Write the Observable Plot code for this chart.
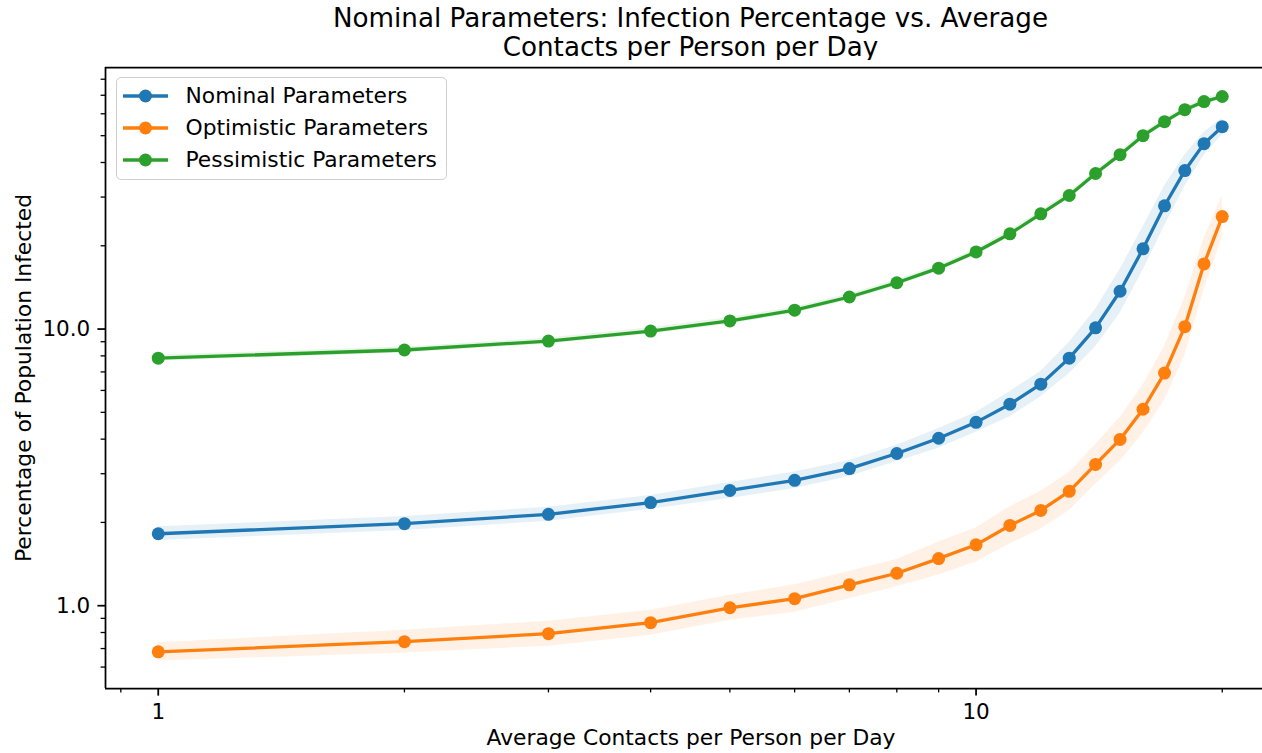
<!DOCTYPE html>
<html>
<head>
<meta charset="utf-8">
<script src="https://cdn.jsdelivr.net/npm/d3@7"></script>
<script src="https://cdn.jsdelivr.net/npm/@observablehq/plot@0.6"></script>
<style>
  html, body { margin: 0; padding: 0; background: #fff; overflow: hidden; }
  body { font-family: "DejaVu Sans", sans-serif; color: #000; position: relative; width: 1262px; height: 753px; }
  #title { position: absolute; left: 105px; top: 4px; width: 1171px; text-align: center; font-size: 26.2px; line-height: 29px; }
  #chart { position: absolute; left: 0; top: 60px; }
  #legend { position: absolute; left: 116px; top: 77px; width: 331px; height: 103px; box-sizing: border-box;
            border: 1.5px solid #cfcfcf; border-radius: 5px; background: rgba(255,255,255,0.8);
            padding: 1.5px 0 0 5.5px; }
  .row { display: flex; align-items: center; height: 32px; font-size: 21.8px; }
  .row svg { margin-right: 17px; flex: none; }
</style>
</head>
<body>
<div id="title"></div>
<div id="chart"></div>
<div id="legend"></div>
<script>
// ---- data ----
const contacts = [1,2,3,4,5,6,7,8,9,10,11,12,13,14,15,16,17,18,19,20];

const nominal   = [1.82,1.98,2.14,2.36,2.61,2.84,3.13,3.55,4.03,4.60,5.35,6.32,7.85,10.1,13.7,19.5,27.9,37.4,46.8,53.9];
const nominalLo = [1.72,1.87,2.02,2.23,2.44,2.65,2.93,3.32,3.71,4.24,4.82,5.69,6.89,8.63,11.4,16.3,23.6,32.8,42.5,50.4];
const nominalHi = [1.93,2.10,2.27,2.50,2.79,3.04,3.35,3.80,4.37,4.99,5.94,7.02,8.95,11.8,16.4,23.4,32.9,42.6,51.5,57.7];

const optimistic   = [0.681,0.741,0.792,0.868,0.983,1.06,1.19,1.31,1.48,1.66,1.95,2.21,2.59,3.24,3.99,5.13,6.93,10.2,17.2,25.5];
const optimisticLo = [0.631,0.674,0.714,0.782,0.886,0.946,1.06,1.17,1.29,1.44,1.67,1.89,2.21,2.75,3.33,4.20,5.54,8.03,13.9,21.4];
const optimisticHi = [0.735,0.815,0.879,0.963,1.09,1.19,1.33,1.47,1.70,1.91,2.28,2.59,3.03,3.82,4.79,6.26,8.66,13.0,21.3,30.3];

const pessimistic   = [7.85,8.40,9.05,9.83,10.7,11.7,13.06,14.7,16.6,19.0,22.1,26.1,30.4,36.5,42.7,50.0,56.2,62.1,66.4,69.3];
const pessimisticLo = [7.66,8.20,8.83,9.59,10.4,11.4,12.7,14.3,16.2,18.5,21.6,25.5,29.7,35.6,41.7,48.8,54.8,60.6,64.8,67.6];
const pessimisticHi = [8.05,8.61,9.28,10.1,11.0,12.0,13.4,15.1,17.0,19.5,22.7,26.8,31.2,37.4,43.8,51.3,57.6,63.7,68.1,71.0];

const seriesNames  = ["Nominal Parameters", "Optimistic Parameters", "Pessimistic Parameters"];
const seriesColors = ["#1f77b4", "#ff7f0e", "#2ca02c"];

const xMajorTicks = [1, 10];
const xMinorTicks = [0.9, 2, 3, 4, 5, 6, 7, 8, 9, 20];
const yMajorTicks = [1, 10];
const yMinorTicks = [0.6, 0.7, 0.8, 0.9, 2, 3, 4, 5, 6, 7, 8, 9, 20, 30, 40, 50, 60, 70, 80];

const titleLines = ["Nominal Parameters: Infection Percentage vs. Average", "Contacts per Person per Day"];
const xLabel = "Average Contacts per Person per Day";
const yLabel = "Percentage of Population Infected";

// ---- build table ----
const seriesData = [
  [nominal, nominalLo, nominalHi],
  [optimistic, optimisticLo, optimisticHi],
  [pessimistic, pessimisticLo, pessimisticHi]
];
const rows = [];
seriesData.forEach(([v, lo, hi], s) => {
  contacts.forEach((c, i) => rows.push({series: seriesNames[s], x: c, y: v[i], lo: lo[i], hi: hi[i]}));
});

const xDomain = [0.862, 22.4];
const yDomain = [0.502, 88.2];
const tickFont = 21.5;

const chart = Plot.plot({
  width: 1262,
  height: 693,
  marginLeft: 105,
  marginRight: 0,
  marginTop: 7,
  marginBottom: 65,
  style: {fontFamily: "DejaVu Sans, sans-serif", fontSize: "21.5px", color: "#000", background: "#fff", overflow: "visible"},
  x: {type: "log", domain: xDomain},
  y: {type: "log", domain: yDomain},
  color: {domain: seriesNames, range: seriesColors},
  marks: [
    Plot.areaY(rows, {x: "x", y1: "lo", y2: "hi", z: "series", fill: "series", fillOpacity: 0.11}),
    Plot.line(rows, {x: "x", y: "y", z: "series", stroke: "series", strokeWidth: 3.3}),
    Plot.dot(rows, {x: "x", y: "y", fill: "series", r: 6.5}),
    Plot.ruleX([xDomain[0]], {stroke: "#000", strokeWidth: 1.75}),
    Plot.ruleY([yDomain[0], yDomain[1]], {stroke: "#000", strokeWidth: 1.75}),
    Plot.axisX(xMajorTicks, {tickSize: 7.6, tickPadding: 7.6, tickFormat: d => String(d), fontSize: tickFont, strokeWidth: 1.75, label: null}),
    Plot.axisX(xMinorTicks, {tickSize: 4.4, tickFormat: () => "", strokeWidth: 1.3, label: null}),
    Plot.axisY(yMajorTicks, {tickSize: 7.6, tickPadding: 7.6, tickFormat: d3.format(".1f"), fontSize: tickFont, strokeWidth: 1.75, label: null}),
    Plot.axisY(yMinorTicks, {tickSize: 4.4, tickFormat: () => "", strokeWidth: 1.3, label: null}),
    Plot.text([xLabel], {frameAnchor: "bottom", lineAnchor: "top", textAnchor: "middle", dx: 7, dy: 41.3, fontSize: 21.8}),
    Plot.text([yLabel], {frameAnchor: "left", lineAnchor: "middle", textAnchor: "middle", rotate: -90, dx: -81.7, fontSize: 21.8})
  ]
});
document.getElementById("chart").appendChild(chart);

document.getElementById("title").innerHTML = titleLines.join("<br>");

const legend = document.getElementById("legend");
seriesNames.forEach((name, i) => {
  const row = document.createElement("div");
  row.className = "row";
  row.innerHTML = `<svg width="46" height="20"><line x1="0" x2="45" y1="10" y2="10" stroke="${seriesColors[i]}" stroke-width="3.3"/><circle cx="22.5" cy="10" r="6.5" fill="${seriesColors[i]}"/></svg><span>${name}</span>`;
  legend.appendChild(row);
});
</script>
</body>
</html>
